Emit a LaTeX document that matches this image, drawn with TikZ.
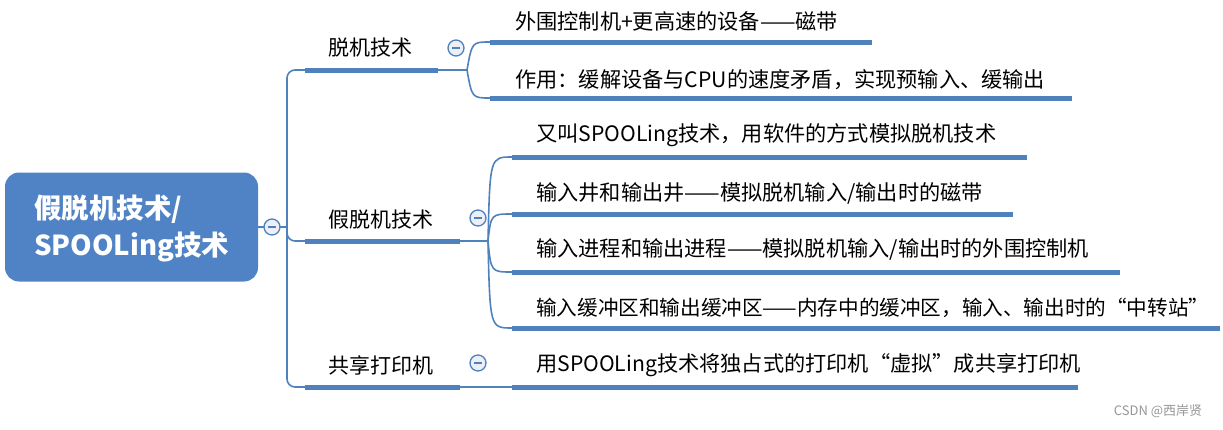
\documentclass[tikz,border=0pt]{standalone}
\usepackage{fontspec}
\setmainfont{Noto Sans CJK SC}
\usetikzlibrary{calc}
\definecolor{lineblue}{RGB}{79,129,189}
\definecolor{rootblue}{RGB}{80,131,197}
\definecolor{foldfill}{RGB}{236,240,246}
\definecolor{wmgray}{RGB}{150,150,150}
\tikzset{
  rootbox/.style={fill=rootblue, rounded corners=14pt, minimum width=253pt, minimum height=109pt, inner sep=0pt},
  roottext/.style={anchor=west, align=left, text=white, inner sep=0pt, font=\fontsize{27.5}{37}\selectfont\bfseries},
  topic/.style={font=\fontsize{21}{24}\selectfont, text=black, inner sep=0pt},
  leaf/.style={font=\fontsize{21.2}{24}\selectfont, text=black, inner sep=0pt, anchor=west},
  uline/.style={draw=lineblue, line width=5pt},
  conn/.style={draw=lineblue, line width=1.6pt},
  fold/.style={circle, draw=lineblue, line width=1.3pt, fill=foldfill, minimum size=16pt, inner sep=0pt,
    path picture={\draw[lineblue, line width=1.3pt] ([xshift=-4pt]path picture bounding box.center) -- ([xshift=4pt]path picture bounding box.center);}},
  wmark/.style={font=\fontsize{13}{15}\selectfont, text=wmgray, inner sep=0pt}
}
\begin{document}
\begin{tikzpicture}[x=1pt,y=-1pt]
\useasboundingbox (0,0) rectangle (1223,429);
% coordinates
\coordinate (J) at (287,227);
\coordinate (T1s) at (305,70);  \coordinate (T1e) at (438,70);  \coordinate (B1) at (467,70);
\coordinate (L11s) at (490,42); \coordinate (L11e) at (872,42);
\coordinate (L12s) at (490,98); \coordinate (L12e) at (1072,98);
\coordinate (T2s) at (305,241); \coordinate (T2e) at (460,241); \coordinate (B2) at (488,241);
\coordinate (L21s) at (512,157); \coordinate (L21e) at (1027,157);
\coordinate (L22s) at (512,214); \coordinate (L22e) at (1013,214);
\coordinate (L23s) at (512,272); \coordinate (L23e) at (1120,272);
\coordinate (L24s) at (512,328); \coordinate (L24e) at (1220,328);
\coordinate (T3s) at (305,387); \coordinate (T3e) at (460,387);
\coordinate (L31s) at (512,387); \coordinate (L31e) at (1078,387);

% root
\node[rootbox] (root) at (131.5,227) {};
\node[roottext] (roottxt) at (34,228.5) {假脱机技术/\\SPOOLing技术};

% trunk connectors
\draw[conn] (root.east) -- (J);
\draw[conn, rounded corners=8pt] (T1s) -- (T1s -| J) -- (T3s -| J) -- (T3s);
\draw[conn, rounded corners=8pt] (J) -- (T2s -| J) -- (T2s);

% branch 1
\draw[conn] (T1e) -- (B1);
\draw[conn] (B1) .. controls (472,42) .. (L11s);
\draw[conn] (B1) .. controls (472,98) .. (L12s);
% branch 2
\draw[conn] (T2e) -- (B2);
\draw[conn] (B2) .. controls (490,157) .. (L21s);
\draw[conn] (B2) .. controls (491,214) .. (L22s);
\draw[conn] (B2) .. controls (491,272) .. (L23s);
\draw[conn] (B2) .. controls (490,328) .. (L24s);
% branch 3
\draw[conn] (T3e) -- (L31s);

% underlines
\draw[uline] (T1s) -- (T1e);
\draw[uline] (T2s) -- (T2e);
\draw[uline] (T3s) -- (T3e);
\draw[uline] (L11s) -- (L11e);
\draw[uline] (L12s) -- (L12e);
\draw[uline] (L21s) -- (L21e);
\draw[uline] (L22s) -- (L22e);
\draw[uline] (L23s) -- (L23e);
\draw[uline] (L24s) -- (L24e);
\draw[uline] (L31s) -- (L31e);

% fold markers
\node[fold] (F0) at (272,227) {};
\node[fold] (F1) at (456,48) {};
\node[fold] (F2) at (478,218) {};
\node[fold] (F3) at (478,363) {};

% topic labels
\node[topic] (t1) at (370,48) {脱机技术};
\node[topic] (t2) at (381,220) {假脱机技术};
\node[topic] (t3) at (381,365) {共享打印机};

% leaf labels
\node[leaf] (l11) at (515,21) {外围控制机+更高速的设备——磁带};
\node[leaf] (l12) at (515,80) {作用：缓解设备与CPU的速度矛盾，实现预输入、缓输出};
\node[leaf] (l21) at (536,135) {又叫SPOOLing技术，用软件的方式模拟脱机技术};
\node[leaf] (l22) at (536,193) {输入井和输出井——模拟脱机输入/输出时的磁带};
\node[leaf] (l23) at (536,249) {输入进程和输出进程——模拟脱机输入/输出时的外围控制机};
\node[leaf, font=\fontsize{20.6}{24}\selectfont] (l24) at (536,308) {输入缓冲区和输出缓冲区——内存中的缓冲区，输入、输出时的“中转站”};
\node[leaf] (l31) at (536,365) {用SPOOLing技术将独占式的打印机“虚拟”成共享打印机};

% watermark
\node[wmark] (wm) at (1158,411) {CSDN @西岸贤};
\end{tikzpicture}
\end{document}
